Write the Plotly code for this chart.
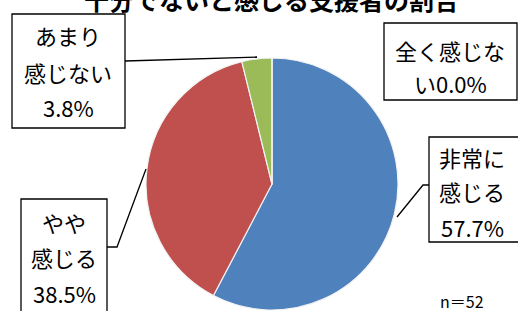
import plotly.graph_objects as go

# Data
categories = ["非常に感じる", "やや感じる", "あまり感じない", "全く感じない"]
counts = [30, 20, 2, 0]
percent_labels = ["57.7%", "38.5%", "3.8%", "0.0%"]
colors = ["#4F81BD", "#C0504D", "#9BBB59", "#8064A2"]
title_text = "十分でないと感じる支援者の割合"
n_text = "n＝52"

W, H = 518, 311
FONT = "Noto Sans CJK JP, Noto Sans, sans-serif"


def px(x):
    return x / W


def py(y):
    return 1 - y / H


fig = go.Figure(
    go.Pie(
        labels=categories,
        values=counts,
        sort=False,
        direction="clockwise",
        rotation=0,
        marker=dict(colors=colors, line=dict(color="#F2F2F2", width=1.2)),
        textinfo="none",
        hoverinfo="label+percent",
        domain=dict(x=[px(146), px(398)], y=[py(310), py(58)]),
        showlegend=False,
    )
)

shapes = []
annotations = []

# Title (cut off at top as in reference)
annotations.append(dict(text="<b>" + title_text + "</b>", x=px(271), y=py(-1), xref="paper", yref="paper",
                        xanchor="center", yanchor="middle", showarrow=False,
                        font=dict(family=FONT, size=25, color="black")))

# Label boxes: (lines, box [x0,y0,x1,y1], center x, line centers y, leader path)
boxes = [
    ([categories[2][:3], categories[2][3:], percent_labels[2]], [12, 14, 125, 128], 68, [35, 72, 107],
     [(125, 61), (257, 57)]),
    ([categories[3][:5], categories[3][5:] + percent_labels[3]], [384, 23, 517, 100], 450, [50, 83],
     None),
    ([categories[0][:3], categories[0][3:], percent_labels[0]], [429, 137, 530, 242], 472, [157, 191, 227],
     [(429, 185), (423, 185), (397, 217)]),
    ([categories[1][:2], categories[1][2:], percent_labels[1]], [21, 199, 107, 330], 64, [222, 257, 293],
     [(107, 247), (117, 247), (146, 169)]),
]

for lines, (x0, y0, x1, y1), cx, ys, leader in boxes:
    shapes.append(dict(type="rect", xref="paper", yref="paper",
                       x0=px(x0), x1=px(x1), y0=py(y1), y1=py(y0),
                       line=dict(color="black", width=1.3), fillcolor="white", layer="above"))
    for t, yy in zip(lines, ys):
        annotations.append(dict(text=t, x=px(cx), y=py(yy), xref="paper", yref="paper",
                                xanchor="center", yanchor="middle", showarrow=False,
                                font=dict(family=FONT, size=22, color="black")))
    if leader:
        path = "M " + " L ".join(f"{px(a)},{py(b)}" for a, b in leader)
        shapes.append(dict(type="path", xref="paper", yref="paper", path=path,
                           line=dict(color="black", width=1.3), layer="above"))

annotations.append(dict(text=n_text, x=px(462), y=py(301), xref="paper", yref="paper",
                        xanchor="center", yanchor="middle", showarrow=False,
                        font=dict(family=FONT, size=16, color="black")))

fig.update_layout(
    width=W, height=H,
    margin=dict(l=0, r=0, t=0, b=0),
    paper_bgcolor="white", plot_bgcolor="white",
    shapes=shapes, annotations=annotations,
)

fig.write_html("out.html", config={"displayModeBar": False},
               post_script="document.body.style.margin='0';document.body.style.overflow='hidden';")
